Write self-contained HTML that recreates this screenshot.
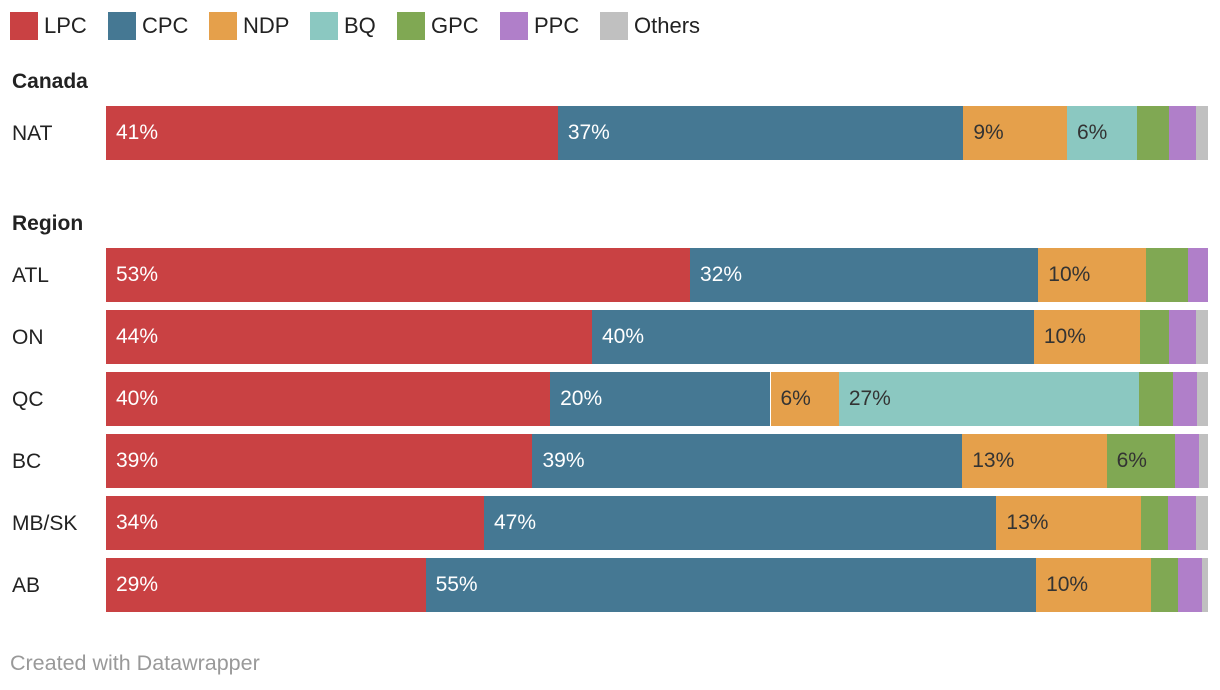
<!DOCTYPE html>
<html><head><meta charset="utf-8"><style>
body{margin:0;width:1220px;height:690px;background:#fff;font-family:"Liberation Sans",sans-serif;overflow:hidden;position:relative}
.abs{position:absolute}
</style></head><body>
<div id="legend"></div>
<div class="abs" style="left:12px;top:70px;font-weight:bold;font-size:21px;color:#222">Canada</div>
<div class="abs" style="left:12px;top:212px;font-weight:bold;font-size:21px;color:#222">Region</div>
<div id="chart"></div>
<div class="abs" style="left:10px;top:651px;font-size:21.5px;color:#999">Created with Datawrapper</div>
<script>
const parties=["LPC","CPC","NDP","BQ","GPC","PPC","Others"];
const colors=["#c94143","#457893","#e5a04b","#8bc8c1","#80a853","#b07fc9","#c0c0c0"];
const textColors=["#fff","#fff","#333","#333","#333","#333","#333"];
const rows=["NAT","ATL","ON","QC","BC","MB/SK","AB"];
const valNAT=[41,36.8,9.4,6.4,2.9,2.4,1.1];
const valATL=[53,31.6,9.8,0,3.8,1.8,0];
const valON=[44.1,40.1,9.6,0,2.7,2.4,1.1];
const valQC=[40.3,20,6.2,27.2,3.1,2.2,1.0];
const valBC=[38.7,39,13.1,0,6.2,2.2,0.8];
const valMBSK=[34.3,46.5,13.1,0,2.5,2.5,1.1];
const valAB=[29,55.4,10.4,0,2.5,2.2,0.5];
const values=[valNAT,valATL,valON,valQC,valBC,valMBSK,valAB];
const rowTops=[106,248,310,372,434,496,558];
const X0=106,W=1102,H=54;
const chart=document.getElementById('chart');
rows.forEach((r,i)=>{
  const key=r.toLowerCase().replace('/','-');
  const lab=document.createElement('div');
  lab.className='abs';
  
  
  lab.style.cssText=`left:12px;top:${rowTops[i]+16}px;font-size:21px;color:#222`;
  lab.textContent=r;chart.appendChild(lab);
  const row=document.createElement('div');
  row.className='abs';
  
  
  row.style.cssText=`left:${X0}px;top:${rowTops[i]}px;width:${W}px;height:${H}px;overflow:hidden`;
  chart.appendChild(row);
  const vals=values[i];const tot=vals.reduce((a,b)=>a+b,0);
  let x=0;
  vals.forEach((v,j)=>{
    if(v<=0)return;
    const w=v/tot*W;
    const s=document.createElement('div');
    s.className='abs';
    
    
    s.style.cssText=`left:${x}px;top:0;width:${w}px;height:${H}px;background:${colors[j]};color:${textColors[j]};font-size:21px;line-height:${H}px;box-sizing:border-box;padding-left:10px;white-space:nowrap;overflow:hidden`;
    if(v>=5)s.textContent=Math.round(v)+'%';
    row.appendChild(s);x+=w;
  });
});
const lg=document.getElementById('legend');
let lx=10;
parties.forEach((p,j)=>{
  const e=document.createElement('div');
  e.className='abs';
  
  
  e.style.cssText=`left:${lx}px;top:12px;height:28px;display:flex;align-items:center;font-size:22px;color:#222;white-space:nowrap`;
  e.innerHTML=`<span style="display:inline-block;width:28px;height:28px;background:${colors[j]};margin-right:6px"></span>${p}`;
  lg.appendChild(e);
  lx+=e.offsetWidth+21;
});
</script>
</body></html>
